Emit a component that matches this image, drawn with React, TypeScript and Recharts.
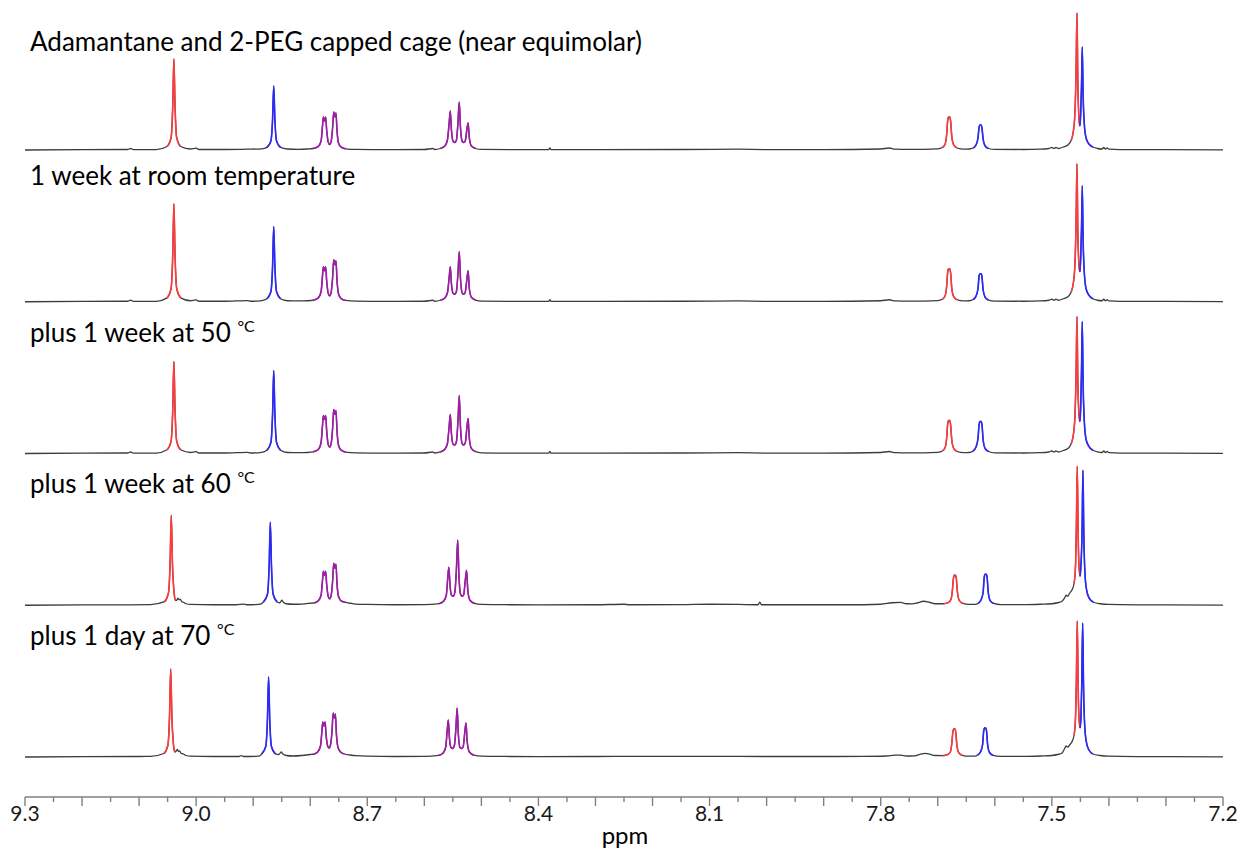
import React from "react";
import { LineChart, Line, XAxis, YAxis } from "recharts";

// [ppm, intensity] pairs, top spectrum first
type Pt = [number, number];
type Band = [number, number, "A" | "B" | "C"];

const S1: Pt[] = [
  [9.3, 0], [9.2, 0.3], [9.12, 0.5], [9.115, 1.5], [9.11, 0.4], [9.07, 0.4],
  [9.051, 3.5], [9.044, 12], [9.041, 44], [9.039, 91], [9.037, 44], [9.034, 12], [9.027, 3.5],
  [9.01, 1], [9.0, 1.8], [8.995, 0.5], [8.95, 0.5], [8.91, 0.8], [8.885, 1.2],
  [8.876, 2.6], [8.869, 9], [8.866, 31], [8.864, 64], [8.862, 31], [8.859, 9], [8.852, 2.6],
  [8.84, 1], [8.82, 0.6], [8.805, 1],
  [8.795, 1.5], [8.786, 3.5], [8.781, 9], [8.7785, 24], [8.777, 33], [8.775, 29], [8.773, 33], [8.7712, 20],
  [8.7685, 8], [8.766, 5.5], [8.7635, 8], [8.7608, 22], [8.7588, 38], [8.7568, 33], [8.7549, 37], [8.753, 19],
  [8.7505, 7], [8.746, 3], [8.738, 1.2],
  [8.72, 0.6], [8.65, 0.4], [8.6, 0.5], [8.585, 1.5], [8.582, 0.5],
  [8.572, 1.5], [8.564, 4], [8.5595, 10], [8.5565, 27], [8.5545, 39], [8.5525, 20], [8.5497, 9], [8.5467, 7.5],
  [8.5437, 10], [8.541, 28], [8.5388, 48], [8.5366, 22], [8.5338, 9], [8.531, 7.5], [8.5283, 9], [8.5255, 20],
  [8.5233, 27], [8.5211, 12], [8.5175, 4], [8.51, 1.5], [8.5, 0.6],
  [8.45, 0.4], [8.382, 0.4], [8.38, 2], [8.378, 0.4], [8.3, 0.3], [8.15, 0.5], [8.05, 0.8], [8.0, 0.4],
  [7.9, 0.4], [7.8, 1], [7.785, 2], [7.775, 0.8], [7.75, 0.6],
  [7.7, 1.2], [7.692, 2.5], [7.687, 6], [7.6845, 15], [7.6825, 30], [7.681, 33], [7.679, 33], [7.6775, 29],
  [7.6755, 14], [7.672, 5], [7.666, 2],
  [7.655, 0.8], [7.645, 1],
  [7.638, 2], [7.633, 5], [7.6295, 12], [7.6275, 23], [7.626, 25], [7.624, 25], [7.6225, 22], [7.6205, 11],
  [7.617, 4], [7.611, 1.5],
  [7.6, 0.6], [7.55, 0.5], [7.52, 0.8], [7.505, 1.5], [7.5, 2.5], [7.496, 1.5], [7.493, 2.5], [7.488, 1.5], [7.48, 3],
  [7.472, 5], [7.466, 10], [7.462, 20], [7.4595, 38], [7.4575, 80], [7.456, 137], [7.4545, 70], [7.4528, 35],
  [7.451, 24], [7.4495, 35], [7.448, 65], [7.4467, 103], [7.4452, 55], [7.443, 25], [7.44, 12], [7.435, 6],
  [7.428, 3], [7.42, 1.5],
  [7.412, 1], [7.409, 2.5], [7.406, 1], [7.403, 2], [7.4, 0.8], [7.38, 0.4], [7.3, 0.3], [7.2, 0.2],
];

const S2: Pt[] = [
  [9.3, 0], [9.2, 0.3], [9.12, 0.5], [9.115, 1.5], [9.11, 0.4], [9.07, 0.4],
  [9.051, 3.9], [9.044, 13], [9.041, 47], [9.039, 98], [9.037, 47], [9.034, 13], [9.027, 3.9],
  [9.01, 1], [9.0, 1.8], [8.995, 0.5], [8.95, 0.5], [8.91, 1.2], [8.905, 0.5], [8.885, 1.2],
  [8.876, 3], [8.869, 10], [8.866, 36], [8.864, 75], [8.862, 36], [8.859, 10], [8.852, 3],
  [8.84, 1], [8.82, 0.8], [8.805, 1],
  [8.795, 1.5], [8.786, 3.8], [8.781, 10], [8.7785, 26], [8.777, 35], [8.775, 31], [8.773, 35], [8.7712, 21],
  [8.7685, 8.5], [8.766, 6], [8.7635, 9], [8.7608, 24], [8.7588, 42], [8.7568, 37], [8.7549, 41], [8.753, 21],
  [8.7505, 8], [8.746, 3.2], [8.738, 1.3],
  [8.72, 0.6], [8.65, 0.4], [8.6, 0.5], [8.585, 1.5], [8.582, 0.5],
  [8.572, 1.5], [8.564, 3.8], [8.5595, 9], [8.5565, 24], [8.5545, 35], [8.5525, 18], [8.5497, 8.5], [8.5467, 7.5],
  [8.5437, 10.5], [8.541, 29], [8.5388, 50], [8.5366, 23], [8.5338, 9], [8.531, 7.5], [8.5283, 9.5], [8.5255, 22],
  [8.5233, 31], [8.5211, 13], [8.5175, 4.5], [8.51, 1.6], [8.5, 0.6],
  [8.45, 0.4], [8.382, 0.4], [8.38, 2], [8.378, 0.4], [8.3, 0.3], [8.15, 0.5], [8.05, 0.8], [8.0, 0.4],
  [7.9, 0.4], [7.8, 1], [7.785, 2], [7.775, 0.8], [7.75, 0.6],
  [7.7, 1.2], [7.692, 2.5], [7.687, 6], [7.6845, 15], [7.6825, 30], [7.681, 33], [7.679, 33], [7.6775, 29],
  [7.6755, 14], [7.672, 5], [7.666, 2],
  [7.655, 0.8], [7.645, 1],
  [7.638, 2.2], [7.633, 5.6], [7.6295, 13], [7.6275, 26], [7.626, 28], [7.624, 28], [7.6225, 25], [7.6205, 12],
  [7.617, 4.5], [7.611, 1.7],
  [7.6, 0.6], [7.55, 0.5], [7.52, 0.8], [7.505, 1.5], [7.5, 2.5], [7.496, 1.5], [7.493, 2.5], [7.488, 1.5], [7.48, 3],
  [7.472, 5], [7.466, 10], [7.462, 20], [7.4595, 38], [7.4575, 80], [7.456, 138], [7.4545, 72], [7.4528, 40],
  [7.451, 30], [7.4495, 42], [7.448, 74], [7.4467, 116], [7.4452, 62], [7.443, 28], [7.44, 13], [7.435, 6.5],
  [7.428, 3], [7.42, 1.5],
  [7.412, 1], [7.409, 2.5], [7.406, 1], [7.403, 2], [7.4, 0.8], [7.38, 0.4], [7.3, 0.3], [7.2, 0.2],
];

const S3: Pt[] = [
  [9.3, 0], [9.2, 0.3], [9.12, 0.5], [9.115, 1.5], [9.11, 0.4], [9.07, 0.4],
  [9.051, 3.7], [9.044, 12], [9.041, 44], [9.039, 92], [9.037, 44], [9.034, 12], [9.027, 3.7],
  [9.01, 1], [9.0, 1.8], [8.995, 0.5], [8.95, 0.5], [8.91, 1.2], [8.905, 0.5], [8.885, 1.2],
  [8.876, 3.3], [8.869, 11], [8.866, 40], [8.864, 83], [8.862, 40], [8.859, 11], [8.852, 3.3],
  [8.84, 1], [8.82, 0.8], [8.805, 1],
  [8.795, 1.6], [8.786, 4], [8.781, 11], [8.7785, 28], [8.777, 38], [8.775, 34], [8.773, 38], [8.7712, 23],
  [8.7685, 9], [8.766, 6.5], [8.7635, 9.5], [8.7608, 25], [8.7588, 44], [8.7568, 39], [8.7549, 43], [8.753, 22],
  [8.7505, 8.5], [8.746, 3.4], [8.738, 1.4],
  [8.72, 0.6], [8.65, 0.4], [8.6, 0.5], [8.585, 1.5], [8.582, 0.5],
  [8.572, 1.6], [8.564, 4.2], [8.5595, 10], [8.5565, 27], [8.5545, 39], [8.5525, 20], [8.5497, 9.5], [8.5467, 8.5],
  [8.5437, 12], [8.541, 33], [8.5388, 58], [8.5366, 26], [8.5338, 10], [8.531, 8.5], [8.5283, 10.5], [8.5255, 25],
  [8.5233, 35], [8.5211, 15], [8.5175, 5], [8.51, 1.8], [8.5, 0.7],
  [8.45, 0.4], [8.382, 0.4], [8.38, 2], [8.378, 0.4], [8.3, 0.3], [8.15, 0.5], [8.05, 0.8], [8.0, 0.4],
  [7.9, 0.4], [7.8, 1], [7.785, 2], [7.775, 0.8], [7.75, 0.6],
  [7.7, 1.2], [7.692, 2.5], [7.687, 6], [7.6845, 15], [7.6825, 30], [7.681, 33], [7.679, 33], [7.6775, 29],
  [7.6755, 14], [7.672, 5], [7.666, 2],
  [7.655, 0.8], [7.645, 1],
  [7.638, 2.5], [7.633, 6.4], [7.6295, 15], [7.6275, 29], [7.626, 32], [7.624, 32], [7.6225, 29], [7.6205, 14],
  [7.617, 5], [7.611, 2],
  [7.6, 0.6], [7.55, 0.5], [7.52, 0.8], [7.505, 1.5], [7.5, 2.5], [7.496, 1.5], [7.493, 2.5], [7.488, 1.5], [7.48, 3],
  [7.472, 5], [7.466, 10], [7.462, 20], [7.4595, 38], [7.4575, 80], [7.456, 137], [7.4545, 74], [7.4528, 42],
  [7.451, 32], [7.4495, 45], [7.448, 84], [7.4467, 132], [7.4452, 70], [7.443, 31], [7.44, 14], [7.435, 7],
  [7.428, 3.2], [7.42, 1.6],
  [7.412, 1], [7.409, 2.5], [7.406, 1], [7.403, 2], [7.4, 0.8], [7.38, 0.4], [7.3, 0.3], [7.2, 0.2],
];

const S4: Pt[] = [
  [9.3, 0], [9.2, 0.3], [9.12, 0.4], [9.08, 0.6],
  [9.0556, 3.6], [9.0486, 12], [9.0456, 43], [9.0436, 90], [9.0416, 43], [9.0386, 12], [9.0365, 5],
  [9.034, 5], [9.032, 7], [9.03, 5.5], [9.028, 6], [9.025, 3.5], [9.022, 3], [9.018, 1.5], [9.01, 0.8],
  [8.97, 0.5], [8.93, 0.5], [8.916, 1.2], [8.912, 0.5], [8.89, 0.8],
  [8.882, 3.3], [8.875, 11], [8.872, 40], [8.87, 83], [8.868, 40], [8.865, 11], [8.858, 3.3],
  [8.853, 2.5], [8.85, 5], [8.847, 3], [8.842, 1.5], [8.83, 1], [8.815, 1.2], [8.8, 2],
  [8.792, 2.5], [8.786, 4.5], [8.781, 10], [8.7785, 25], [8.777, 34], [8.775, 30], [8.773, 34], [8.7712, 21],
  [8.7685, 9], [8.766, 6.5], [8.7635, 9.5], [8.7608, 24], [8.7588, 42], [8.7568, 37], [8.7549, 41], [8.753, 21],
  [8.7505, 9], [8.746, 4.5], [8.738, 2.8], [8.73, 2], [8.72, 1.2], [8.7, 0.8],
  [8.65, 0.5], [8.6, 0.6],
  [8.574, 1.6], [8.566, 4.2], [8.5615, 10], [8.559, 27], [8.557, 38], [8.555, 20], [8.5522, 10], [8.5492, 9],
  [8.5465, 13], [8.5437, 37], [8.5415, 65], [8.5393, 29], [8.5365, 11], [8.5337, 9], [8.531, 10.5], [8.5282, 25],
  [8.526, 35], [8.5238, 15], [8.52, 5], [8.512, 1.8], [8.5, 0.8],
  [8.45, 0.5], [8.4, 0.4], [8.3, 0.5], [8.25, 1], [8.24, 0.5], [8.15, 0.6], [8.1, 1], [8.05, 0.8],
  [8.015, 0.5], [8.012, 3], [8.009, 0.5], [7.95, 0.5], [7.86, 0.5],
  [7.8, 1], [7.78, 2.5], [7.765, 2.8], [7.755, 1.5], [7.745, 1.4], [7.735, 2.5], [7.725, 4], [7.715, 3], [7.705, 1.5],
  [7.69, 1.5], [7.682, 2.5], [7.677, 5.5], [7.6745, 14], [7.6725, 27], [7.671, 30], [7.669, 30], [7.6675, 27],
  [7.6655, 13], [7.662, 4.5], [7.656, 1.8],
  [7.645, 0.8], [7.635, 0.8],
  [7.629, 2], [7.624, 5.5], [7.6205, 13], [7.6185, 28], [7.617, 31], [7.615, 31], [7.6135, 28], [7.6115, 13],
  [7.608, 4.5], [7.602, 1.8],
  [7.59, 0.6], [7.55, 0.6], [7.52, 1], [7.5, 1.5], [7.49, 2.5],
  [7.482, 4], [7.478, 7], [7.475, 10], [7.472, 9], [7.469, 12], [7.465, 15], [7.461, 22], [7.4585, 40],
  [7.457, 80], [7.4555, 139], [7.454, 75], [7.4525, 40], [7.4505, 29], [7.449, 40], [7.447, 75], [7.4455, 135],
  [7.444, 72], [7.442, 32], [7.439, 15], [7.4345, 7], [7.427, 3], [7.415, 1.5], [7.4, 0.8], [7.35, 0.4],
  [7.3, 0.3], [7.2, 0.2],
];

const S5: Pt[] = [
  [9.3, 0], [9.2, 0.3], [9.1, 0.5], [9.08, 0.6],
  [9.0566, 3.5], [9.0496, 11.5], [9.0466, 42], [9.0446, 88], [9.0426, 42], [9.0396, 11.5], [9.0375, 5],
  [9.035, 6], [9.033, 7.5], [9.031, 5.5], [9.029, 6], [9.026, 3.5], [9.022, 3], [9.018, 1.5], [9.01, 0.8],
  [8.97, 0.5], [8.925, 0.5], [8.921, 1.4], [8.917, 0.5], [8.89, 0.8],
  [8.885, 3.2], [8.878, 10.5], [8.875, 38], [8.873, 80], [8.871, 38], [8.868, 10.5], [8.861, 3.2],
  [8.855, 2.5], [8.851, 5], [8.848, 3], [8.842, 1.5], [8.83, 1], [8.815, 1.5], [8.8, 2.5],
  [8.793, 3], [8.787, 5], [8.782, 11], [8.7795, 26], [8.778, 35], [8.776, 31], [8.774, 35], [8.7722, 22],
  [8.7695, 11], [8.767, 9], [8.7645, 12], [8.7618, 26], [8.7598, 44], [8.7578, 39], [8.7559, 43], [8.754, 22],
  [8.7515, 10], [8.747, 5], [8.74, 3], [8.73, 2], [8.72, 1.3], [8.7, 0.8],
  [8.65, 0.5], [8.6, 0.6],
  [8.575, 1.6], [8.567, 4], [8.5625, 10], [8.56, 26], [8.558, 37], [8.556, 19], [8.5532, 9.5], [8.5502, 8.5],
  [8.5475, 11], [8.5447, 28], [8.5425, 49], [8.5403, 22], [8.5375, 9.5], [8.5347, 8.5], [8.532, 10], [8.5292, 24],
  [8.527, 34], [8.5248, 15], [8.521, 5], [8.513, 1.8], [8.5, 0.8],
  [8.45, 0.5], [8.4, 0.4], [8.3, 0.5], [8.2, 0.6], [8.1, 0.6], [8.0, 0.5], [7.9, 0.5], [7.83, 0.6],
  [7.79, 1], [7.775, 1.8], [7.765, 1.8], [7.755, 1], [7.74, 1.2], [7.73, 2.8], [7.722, 3.6], [7.714, 2.8], [7.705, 1.5],
  [7.691, 1.4], [7.683, 2.3], [7.678, 5], [7.6755, 13], [7.6735, 25], [7.672, 28], [7.67, 28], [7.6685, 25],
  [7.6665, 12], [7.663, 4.2], [7.657, 1.7],
  [7.645, 0.8], [7.635, 0.8],
  [7.63, 1.9], [7.625, 5.2], [7.6215, 12], [7.6195, 26], [7.618, 29], [7.616, 29], [7.6145, 26], [7.6125, 12],
  [7.609, 4.2], [7.603, 1.7],
  [7.59, 0.6], [7.55, 0.6], [7.52, 1], [7.5, 1.5], [7.49, 2.5],
  [7.482, 4], [7.478, 8], [7.475, 11], [7.472, 10], [7.469, 12], [7.465, 15], [7.461, 22], [7.4585, 40],
  [7.457, 78], [7.4555, 136], [7.454, 74], [7.4525, 40], [7.4505, 29], [7.449, 40], [7.4475, 75], [7.446, 134],
  [7.4445, 72], [7.4425, 32], [7.4395, 15], [7.435, 7], [7.428, 3], [7.415, 1.5], [7.4, 0.8], [7.35, 0.4],
  [7.3, 0.3], [7.2, 0.2],
];

// ppm ranges of each assigned signal: A = first cage (red), B = second cage (blue), C = shared (purple)
const BANDS_TOP: Band[] = [
  [9.025, 9.053, "A"], [8.85, 8.878, "B"], [8.735, 8.797, "C"], [8.505, 8.575, "C"],
  [7.664, 7.695, "A"], [7.609, 7.64, "B"], [7.451, 7.4665, "A"], [7.425, 7.451, "B"],
];
const BANDS_BOTTOM: Band[] = [
  [9.036, 9.058, "A"], [8.857, 8.886, "B"], [8.735, 8.795, "C"], [8.505, 8.577, "C"],
  [7.655, 7.692, "A"], [7.601, 7.631, "B"], [7.4505, 7.4635, "A"], [7.426, 7.4505, "B"],
];

const SPECTRA: Pt[][] = [S1, S2, S3, S4, S5];
const BANDS: Band[][] = [BANDS_TOP, BANDS_TOP, BANDS_TOP, BANDS_BOTTOM, BANDS_BOTTOM];

const LABEL_TEXT = [
  "Adamantane and 2-PEG capped cage (near equimolar)",
  "1 week at room temperature",
  "plus 1 week at 50 ",
  "plus 1 week at 60 ",
  "plus 1 day at 70 ",
];
const LABEL_UNIT = ["", "", "°C", "°C", "°C"];

const AXIS_LABELS = [9.3, 9.0, 8.7, 8.4, 8.1, 7.8, 7.5, 7.2];
const TICKS = Array.from({ length: 43 }, (_, i) => +(7.2 + i * 0.05).toFixed(2));

const COLORS: Record<string, string> = { A: "#ff3b3b", B: "#2a2aff", C: "#a21caa" };
const STEP = 151.75;
const LABEL_Y = [51, 185, 342, 493, 645];
const FONT = "Lato, 'Open Sans', sans-serif";

function toSeries(pts: Pt[], off: number, lo = -Infinity, hi = Infinity) {
  return pts
    .filter(([p]) => p >= lo && p <= hi)
    .sort((a, b) => b[0] - a[0])
    .map(([p, v]) => ({ x: p, y: v + off }));
}

function PpmTick(props: any) {
  const { x, y, payload } = props;
  const v = payload.value;
  const tenth = Math.abs(v * 10 - Math.round(v * 10)) < 1e-6;
  const labelled = AXIS_LABELS.some((l) => Math.abs(l - v) < 1e-6);
  return (
    <g>
      <line x1={x} x2={x} y1={y} y2={y + (tenth ? 9 : 5)} stroke="#808080" strokeWidth={1.4} />
      {labelled && (
        <text x={x} y={y + 24} textAnchor="middle" fontSize={21} fill="#1a1a1a" fontFamily={FONT}>
          {v.toFixed(1)}
        </text>
      )}
    </g>
  );
}

export default function App() {
  return (
    <div style={{ position: "absolute", left: 0, top: 0, background: "#fff" }}>
      <LineChart width={1240} height={850} margin={{ top: 0, right: 17, bottom: 0, left: 25 }}>
        <XAxis
          dataKey="x"
          type="number"
          domain={[7.2, 9.3]}
          reversed
          allowDataOverflow
          ticks={TICKS}
          interval={0}
          tickLine={false}
          tickSize={0}
          tickMargin={0}
          tick={<PpmTick />}
          height={53}
          axisLine={{ stroke: "#808080", strokeWidth: 1.4 }}
        />
        <YAxis hide type="number" domain={[-40, 757]} allowDataOverflow />
        {SPECTRA.map((pts, i) => (
          <Line
            key={`base-${i}`}
            data={toSeries(pts, (4 - i) * STEP)}
            dataKey="y"
            type="monotone"
            stroke="#3c3c3c"
            strokeWidth={1.3}
            dot={false}
            activeDot={false}
            isAnimationActive={false}
          />
        ))}
        {SPECTRA.map((pts, i) =>
          BANDS[i].map(([lo, hi, sp], j) => (
            <Line
              key={`band-${i}-${j}`}
              data={toSeries(pts, (4 - i) * STEP, lo, hi)}
              dataKey="y"
              type="monotone"
              stroke={COLORS[sp]}
              strokeWidth={1.6}
              dot={false}
              activeDot={false}
              isAnimationActive={false}
            />
          ))
        )}
        {LABEL_TEXT.map((t, i) => (
          <text key={`lbl-${i}`} x={30} y={LABEL_Y[i]} fontSize={26} fill="#000" fontFamily={FONT}>
            {t}
            {LABEL_UNIT[i] && (
              <tspan fontSize={16} dy={-10}>
                {LABEL_UNIT[i]}
              </tspan>
            )}
          </text>
        ))}
        <text x={625} y={844} textAnchor="middle" fontSize={24} fill="#000" fontFamily={FONT}>
          ppm
        </text>
      </LineChart>
    </div>
  );
}
